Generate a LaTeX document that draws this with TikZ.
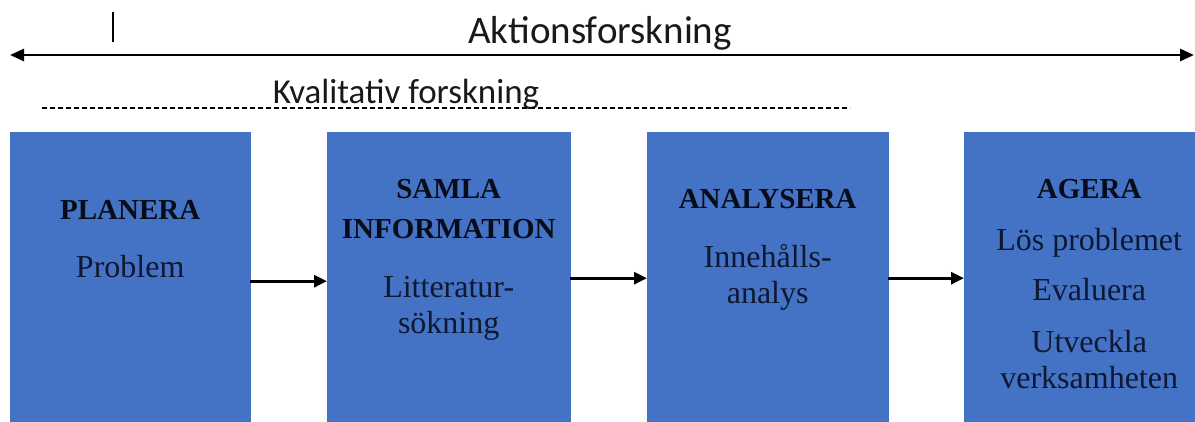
\documentclass[tikz,border=0pt]{standalone}
\usepackage{fontspec}
\setmainfont{Liberation Serif}
\newfontfamily\labelfont{Carlito}
\usetikzlibrary{arrows.meta}
\usetikzlibrary{positioning}
\definecolor{stageblue}{HTML}{4472C4}
\definecolor{stageink}{HTML}{0E1830}
\tikzset{
  stage/.style={fill=stageblue, draw=stageblue, anchor=north west, minimum height=296pt, inner sep=0pt},
  head/.style={font=\bfseries\fontsize{29}{40}\selectfont, text=stageink!50!black, align=center, inner sep=0pt},
  body/.style={font=\fontsize{32}{36}\selectfont, text=stageink, align=center, inner sep=0pt},
  flow/.style={-{Triangle[length=13pt,width=12pt]}, line width=2.8pt},
  span/.style={{Triangle[length=14pt,width=12pt]}-{Triangle[length=14pt,width=12pt]}, line width=2.8pt},
}

\begin{document}
\begin{tikzpicture}[x=1pt,y=-1pt]
    \useasboundingbox (0,0) rectangle (1195,421);

    % top span
    \coordinate (spanw) at (10,55);
    \coordinate (spane) at (1194,55);
    \node [font=\labelfont\fontsize{39}{40}\selectfont, text=black!90, anchor=base] (aktion) at (600,43) {Aktionsforskning};
    \draw [span] (spanw) -- (spane);
    \draw [line width=1.2pt] (113,12) -- (113,42);

    \coordinate (kvalw) at (42,108);
    \coordinate (kvale) at (850,108);
    \node [font=\labelfont\fontsize{35}{36}\selectfont, text=black!90, anchor=base] (kval) at (406,103) {Kvalitativ forskning};
    \draw [dashed, dash pattern=on 5pt off 3pt, line width=1.3pt] (kvalw) -- (kvale);

    % stages
    \node [stage, minimum width=240pt] (plan) at (10,132) {};
    \node [stage, minimum width=243pt] (samla) at (327,132) {};
    \node [stage, minimum width=241pt] (analys) at (647,132) {};
    \node [stage, minimum width=250pt] (agera) at (964,132) {};

    % base = last line of a node
    \node [head, below=87pt of plan.north, anchor=base] (planh) {PLANERA};
    \node [body, below=58pt of planh.base, anchor=base] (planb) {Problem};

    \node [head, below=106pt of samla.north, anchor=base] (samlah) {SAMLA\\INFORMATION};
    \node [body, below=95pt of samlah.base, anchor=base] (samlab) {Litteratur-\\sökning};

    \node [head, below=76pt of analys.north, anchor=base] (analysh) {ANALYSERA};
    \node [body, below=95pt of analysh.base, anchor=base] (analysb) {Innehålls-\\analys};

    \node [head, below=66pt of agera.north, anchor=base] (agerah) {AGERA};
    \node [body, below=190pt of agerah.base, anchor=base] (agerab) {Lös problemet\\[14pt]Evaluera\\[16pt]Utveckla\\verksamheten};

    \draw [flow] ([yshift=-1pt]plan.east) -- ([yshift=-1pt]samla.west);
    \draw [flow] ([yshift=2pt]samla.east) -- ([yshift=2pt]analys.west);
    \draw [flow] ([yshift=2pt]analys.east) -- ([yshift=2pt]agera.west);
\end{tikzpicture}
\end{document}
